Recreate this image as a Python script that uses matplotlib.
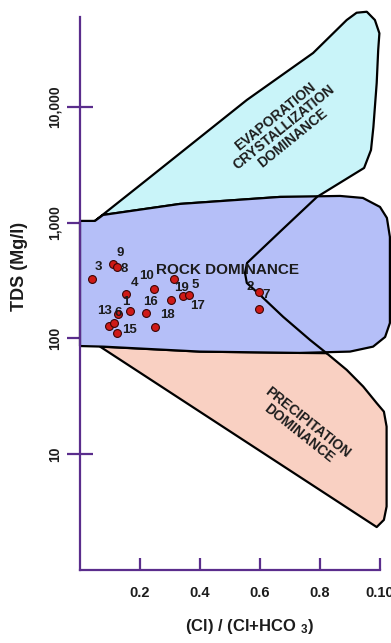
import numpy as np
import matplotlib
matplotlib.use("Agg")
import matplotlib.pyplot as plt
from matplotlib.patches import Polygon
from matplotlib.ticker import NullLocator

plt.rcParams['font.family'] = ['Liberation Sans', 'DejaVu Sans']
plt.rcParams['mathtext.default'] = 'regular'

# Sample points: ratio Cl/(Cl+HCO3) against TDS (mg/l)
sample_ids = ['3', '9', '8', '4', '10', '', '5', '17', '19', '16', '1', '6', '13', '', '15', '18', '2', '7']
cl_ratio = [0.039, 0.111, 0.124, 0.153, 0.247, 0.314, 0.342, 0.362, 0.303,
            0.219, 0.167, 0.126, 0.097, 0.113, 0.122, 0.250, 0.597, 0.597]
tds = [327, 439, 418, 243, 270, 327, 233, 240, 216,
       166, 173, 162, 128, 136, 112, 126, 251, 179]

# Gibbs field outlines
rock_x = [0.0, 0.05, 0.077, 0.333, 0.667, 0.867, 0.943, 1.0, 1.023, 1.033,
          1.033, 1.017, 0.977, 0.9, 0.733, 0.4, 0.077, 0.0]
rock_y = [1039, 1039, 1170, 1457, 1675, 1708, 1641, 1372, 1103, 755,
          136, 103, 85, 77, 75, 77, 85, 86]

evap_x = [0.05, 0.222, 0.556, 0.777, 0.889, 0.922, 0.956, 0.983, 0.998, 0.994,
          0.989, 0.978, 0.970, 0.947, 0.79, 0.667, 0.333, 0.077]
evap_y = [1039, 2349, 11540, 29410, 56730, 65580, 66890, 56730, 43520, 31220,
          16190, 6743, 4267, 2982, 1675, 1675, 1457, 1170]

precip_x = [0.067, 0.4, 0.733, 0.822, 0.889, 0.944, 0.989, 1.013, 1.022,
            1.022, 1.013, 0.989]
precip_y = [85, 77, 75, 74.6, 53.5, 38.4, 27.6, 23.3, 17.3,
            3.52, 2.70, 2.34]

# boundary running from the evaporation field through the rock field
divide_x = [0.79, 0.673, 0.557, 0.55, 0.556, 0.6, 0.677, 0.767, 0.822]
divide_y = [1675, 868, 450, 369, 302, 238, 154, 97, 74.6]

xticks = [0.2, 0.4, 0.6, 0.8, 1.0]
xticklabels = ['0.2', '0.4', '0.6', '0.8', '0.10']
yticks = [10, 100, 1000, 10000]
yticklabels = ['10', '100', '1,000', '10,000']

# label offsets in points (dx, dy) from each sample
label_offsets = [(4.8, 8.4), (4.8, 8.4), (5.0, -1.4), (6.0, 8.1), (-5.3, 9.4), (0, 0),
                 (8.9, 7.9), (6.2, -8.1), (7.7, 8.4), (3.1, 8.1), (-3.1, 6.7),
                 (0, 1.2), (-3.6, 10.6), (0, 0), (9.6, 2.3), (9.0, 8.9),
                 (-6.5, 4.0), (5.0, 10.3)]

axis_col = '#5a2d8c'
txt_col = '#1c1c1c'

fig = plt.figure(figsize=(3.91, 6.43), dpi=100)
ax = fig.add_axes([80 / 391, (643 - 569.75) / 643, 311 / 391, (569.75 - 17.2) / 643])
ax.set_yscale('log')
ax.set_xlim(0, 311 / 300)
ax.set_ylim(1, 60000)

ax.add_patch(Polygon(np.column_stack([evap_x, evap_y]), closed=True, facecolor='#c9f4f9',
                     edgecolor='black', lw=1.6, zorder=1, clip_on=False, joinstyle='round'))
ax.add_patch(Polygon(np.column_stack([precip_x, precip_y]), closed=True, facecolor='#f9d0c2',
                     edgecolor='black', lw=1.6, zorder=1, clip_on=False, joinstyle='round'))
ax.add_patch(Polygon(np.column_stack([rock_x, rock_y]), closed=True, facecolor='#b5bff8',
                     edgecolor='black', lw=1.6, zorder=2, clip_on=False, joinstyle='round'))
ax.plot(divide_x, divide_y, color='black', lw=1.6, zorder=3, clip_on=False,
        solid_joinstyle='round')

ax.scatter(cl_ratio, tds, s=32, c='#cf1a17', edgecolors='#3a0505', linewidths=0.8, zorder=6)
for sid, xv, yv, off in zip(sample_ids, cl_ratio, tds, label_offsets):
    if sid:
        ax.annotate(sid, (xv, yv), xytext=off, textcoords='offset points',
                    ha='center', va='center', fontsize=9.5, fontweight='bold',
                    color=txt_col, zorder=7)

ax.text(0.492, 392, 'ROCK DOMINANCE', ha='center', va='center', fontsize=11,
        fontweight='bold', color=txt_col, zorder=5)
ax.text(0.68, 6700, 'EVAPORATION\nCRYSTALLIZATION\nDOMINANCE', ha='center', va='center',
        multialignment='center', rotation=39, rotation_mode='anchor', fontsize=10,
        fontweight='bold', color=txt_col, linespacing=1.0, zorder=5)
ax.text(0.745, 16.8, 'PRECIPITATION\nDOMINANCE', ha='center', va='center',
        multialignment='center', rotation=-38.5, rotation_mode='anchor', fontsize=10,
        fontweight='bold', color=txt_col, linespacing=1.0, zorder=5)

# axes styling
for side in ['top', 'right']:
    ax.spines[side].set_visible(False)
for side in ['left', 'bottom']:
    ax.spines[side].set_color(axis_col)
    ax.spines[side].set_linewidth(1.6)
    ax.spines[side].set_zorder(4)
ax.spines['bottom'].set_bounds(0, 1.0)

ax.set_xticks(xticks)
ax.set_xticklabels(xticklabels, fontsize=10.5, fontweight='bold', color=txt_col)
ax.set_yticks(yticks)
ax.set_yticklabels(yticklabels, fontsize=10, fontweight='bold', color=txt_col,
                   rotation=90, va='center')
ax.yaxis.set_minor_locator(NullLocator())
ax.tick_params(axis='x', direction='in', length=9, width=1.6, color=axis_col, pad=11.5)
ax.tick_params(axis='y', direction='inout', length=18.7, width=1.6, color=axis_col, pad=3.6)

fig.text(20 / 391, 1 - 266 / 643, 'TDS (Mg/l)', rotation=90, ha='center', va='center',
         fontsize=13, fontweight='bold', color=txt_col)
fig.text(249 / 391, 1 - 627 / 643, '(Cl) / (Cl+HCO $_3$)', ha='center', va='center',
         fontsize=12, fontweight='bold', color=txt_col)

fig.savefig('out.png', dpi=100, facecolor='white')
